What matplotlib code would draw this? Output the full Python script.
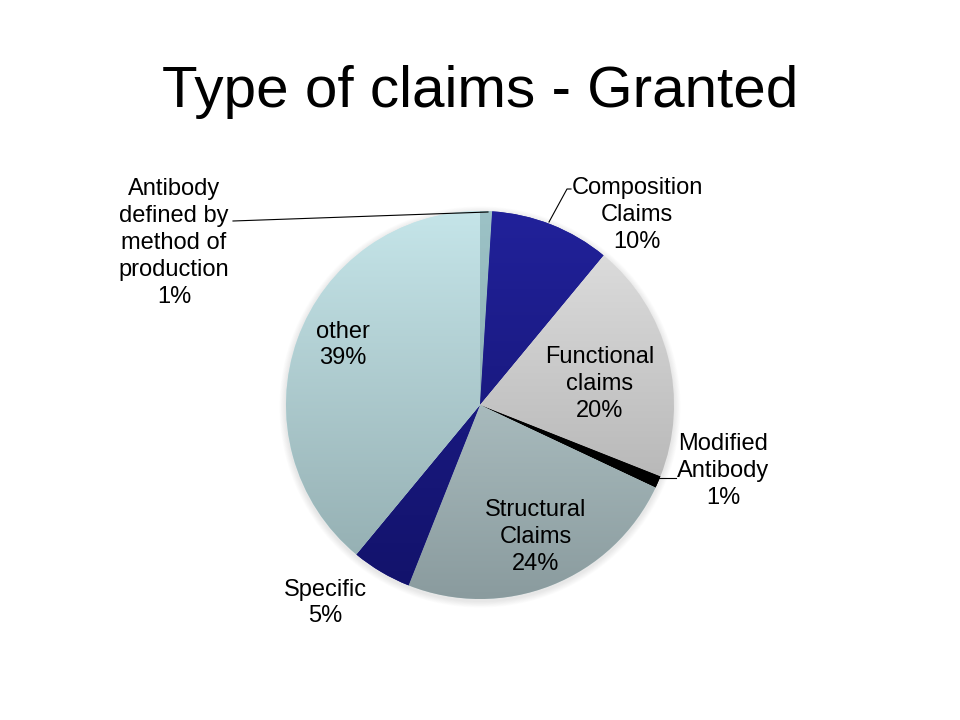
import numpy as np
import matplotlib
matplotlib.use("Agg")
import matplotlib.pyplot as plt
from matplotlib.colors import LinearSegmentedColormap

plt.rcParams['font.family'] = ['Liberation Sans', 'DejaVu Sans']

title = "Type of claims - Granted"
categories = ["Antibody\ndefined by\nmethod of\nproduction", "Composition\nClaims",
              "Functional\nclaims", "Modified\nAntibody", "Structural\nClaims",
              "Specific", "other"]
values = [1, 10, 20, 1, 24, 5, 39]
top_colors = ["#9CC2C6", "#21219A", "#E2E2E2", "#000000", "#C6DADC", "#202094", "#C5E5E9"]
bottom_colors = ["#7FA2A6", "#121268", "#A6A6A6", "#000000", "#8A9B9E", "#12126A", "#90AAAD"]

fig = plt.figure(figsize=(9.6, 7.2), dpi=100)
ax = fig.add_axes([0, 0, 1, 1])

cx, cy, R = 480, 315, 194

# soft shadow
for i in range(8):
    sh = plt.Circle((cx, cy - 2), R + 1 + i * 0.8, color='#000000', alpha=0.012, zorder=0.5, lw=0)
    ax.add_patch(sh)

wedges, _ = ax.pie(values, startangle=90, counterclock=False, center=(cx, cy), radius=R,
                   colors=top_colors, wedgeprops=dict(linewidth=0), frame=True)

grad = np.linspace(0, 1, 256).reshape(-1, 1)
for w, tc, bc in zip(wedges, top_colors, bottom_colors):
    cmap = LinearSegmentedColormap.from_list("g", [tc, bc])
    im = ax.imshow(grad, cmap=cmap, extent=(cx - R, cx + R, cy + R, cy - R), origin='lower',
                   aspect='auto', zorder=2, interpolation='bilinear')
    im.set_clip_path(w)
ax.set_xlim(0, 960)
ax.set_ylim(0, 720)
ax.set_aspect('equal')
ax.axis('off')

fig.text(480 / 960, 1 - 92 / 720, title, ha='center', va='center', fontsize=42, color='black')

def P(x, y):
    return (x, 720 - y)

fs = 17
labels = [
    (categories[0] + "\n1%", 174, 243),
    (categories[1] + "\n10%", 637, 215),
    (categories[2] + "\n20%", 600, 384),
    (categories[3] + "\n1%", 723, 471),
    (categories[4] + "\n24%", 536, 537),
    (categories[5] + "\n5%", 325, 603),
    (categories[6] + "\n39%", 343, 345),
]
for txt, x, y in labels:
    ax.text(*P(x, y), txt, ha='center', va='center', fontsize=fs, linespacing=1.29, zorder=5)

# leader lines
ax.plot([233, 488], [720 - 221, 720 - 212], color='black', lw=0.8, zorder=4)
ax.plot([571, 567, 549], [720 - 189, 720 - 189, 720 - 222], color='black', lw=0.8, zorder=4)
ax.plot([659, 676], [720 - 478, 720 - 478], color='black', lw=0.8, zorder=4)

fig.savefig("out.png", dpi=100, facecolor='white')
